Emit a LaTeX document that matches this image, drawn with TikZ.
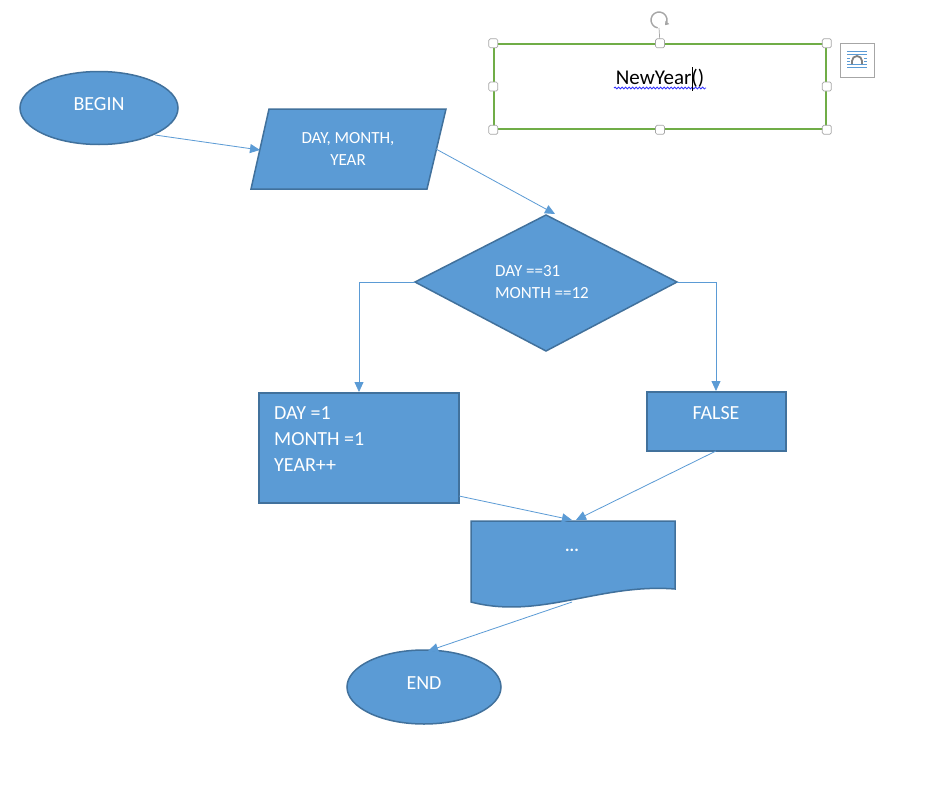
\documentclass[tikz,border=0pt]{standalone}
\usepackage{fontspec}
\setmainfont{Carlito}
\usetikzlibrary{arrows.meta,shapes.geometric,decorations.pathmorphing}
\definecolor{fillb}{HTML}{5B9BD5}
\definecolor{edgeb}{HTML}{41719C}
\definecolor{grn}{HTML}{70AD47}
\definecolor{hgray}{HTML}{A6A6A6}
\begin{document}
\begin{tikzpicture}[x=1pt,y=-1pt]
\tikzset{
  shp/.style={fill=fillb, draw=edgeb, line width=1.5pt},
  conn/.style={draw=fillb, line width=0.8pt, -{Triangle[length=10pt,width=9pt]}},
  bigtxt/.style={text=white, font=\fontsize{20}{26}\selectfont, inner sep=0pt},
  smalltxt/.style={text=white, font=\fontsize{17}{22.5}\selectfont, inner sep=0pt},
  handle/.style={draw=hgray, fill=white, rounded corners=1.5pt, minimum size=9pt, inner sep=0pt, line width=0.7pt},
}
\useasboundingbox (0,0) rectangle (927,790);
\fill[white] (0,0) rectangle (927,790);

% BEGIN
\node[shp, ellipse, minimum width=158pt, minimum height=73pt, inner sep=0pt] (begin) at (99,108) {};
\node[bigtxt] (begintxt) at (99,104) {BEGIN};

% input parallelogram
\path[shp] (269,109) coordinate (pa) -- (446,109) coordinate (pb) -- (427,189) coordinate (pc) -- (251,189) coordinate (pd) -- cycle;
\node[smalltxt, align=center] (input) at (348,149) {DAY, MONTH,\\YEAR};

% decision
\path[shp] (546,215) coordinate (dtop) -- (677,282) coordinate (dright) -- (546,351) coordinate (dbot) -- (415,282) coordinate (dleft) -- cycle;
\node[smalltxt, align=left, anchor=west] (cond) at (495,282) {DAY ==31\\MONTH ==12};

% yes box
\node[shp, minimum width=200pt, minimum height=110pt, inner sep=0pt] (yes) at (359,448) {};
\node[bigtxt, align=left, anchor=west] (yestxt) at (274,439) {DAY =1\\MONTH =1\\YEAR++};

% false box
\node[shp, minimum width=139pt, minimum height=59pt, inner sep=0pt] (no) at (716.5,421.5) {};
\node[bigtxt] (notxt) at (716,413) {FALSE};

% document shape
\path[shp] (471,521) coordinate (doctl) -- (675,521) coordinate (doctr) -- (675,589)
  .. controls (600,583) and (540,620) .. (471,602) -- cycle;
\node[smalltxt] (doc) at (572,550) {\textbf{...}};

% END
\node[shp, ellipse, minimum width=154pt, minimum height=74pt, inner sep=0pt] (end) at (424,687) {};
\node[bigtxt] (endtxt) at (424,683) {END};

% connectors
\coordinate (c1s) at (155,135); \coordinate (c1e) at (260,150);
\draw[conn] (c1s) -- (c1e);
\coordinate (c2s) at (436,149); \coordinate (c2e) at (555,214);
\draw[conn] (c2s) -- (c2e);
\coordinate (c3e) at (359,392);
\draw[conn] (dleft) -| (c3e);
\coordinate (c4e) at (716,391);
\draw[conn] (dright) -| (c4e);
\coordinate (c5s) at (459,496); \coordinate (c5e) at (572,520);
\draw[conn] (c5s) -- (c5e);
\coordinate (c6s) at (716,451); \coordinate (c6e) at (576,520);
\draw[conn] (c6s) -- (c6e);
\coordinate (c7s) at (572,602); \coordinate (c7e) at (428,651);
\draw[conn] (c7s) -- (c7e);

% selected text box
\node[draw=grn, line width=1.5pt, minimum width=332pt, minimum height=85pt, inner sep=0pt] (tb) at (660,86.5) {};
\node[text=black, font=\fontsize{21}{24}\selectfont, inner sep=0pt] (ny) at (660,78) {NewYear()};
\draw[blue!80, line width=0.8pt, decorate, decoration={snake, amplitude=1pt, segment length=3.5pt}] (614,88) -- (706,88);
\draw[black, line width=0.8pt] (692,67) -- (692,91);
\coordinate (rot) at (659,20);
\draw[hgray, line width=0.7pt] (tb.north) -- (659,28);
\foreach \a in {north west, north, north east, east, south east, south, south west, west}
  \node[handle] at (tb.\a) {};
\draw[hgray, line width=1.4pt, -{Triangle[length=3.5pt,width=5pt]}] (rot) ++(100:8) arc[start angle=100, end angle=400, radius=8];

% layout options icon
\node[draw=hgray, fill=white, line width=0.7pt, minimum size=34pt, inner sep=0pt] (lo) at (857,60) {};
\foreach \yy in {51.5,54.5,64.5,67.5}
  \draw[fillb, line width=0.9pt] (847,\yy) -- (867,\yy);
\foreach \yy in {58,61}{
  \draw[fillb, line width=0.9pt] (847,\yy) -- (850,\yy);
  \draw[fillb, line width=0.9pt] (864,\yy) -- (867,\yy);
}
\draw[gray, line width=1.8pt] (852,64) -- (852,61) arc[start angle=180, end angle=360, radius=5] -- (862,64);
\end{tikzpicture}
\end{document}
